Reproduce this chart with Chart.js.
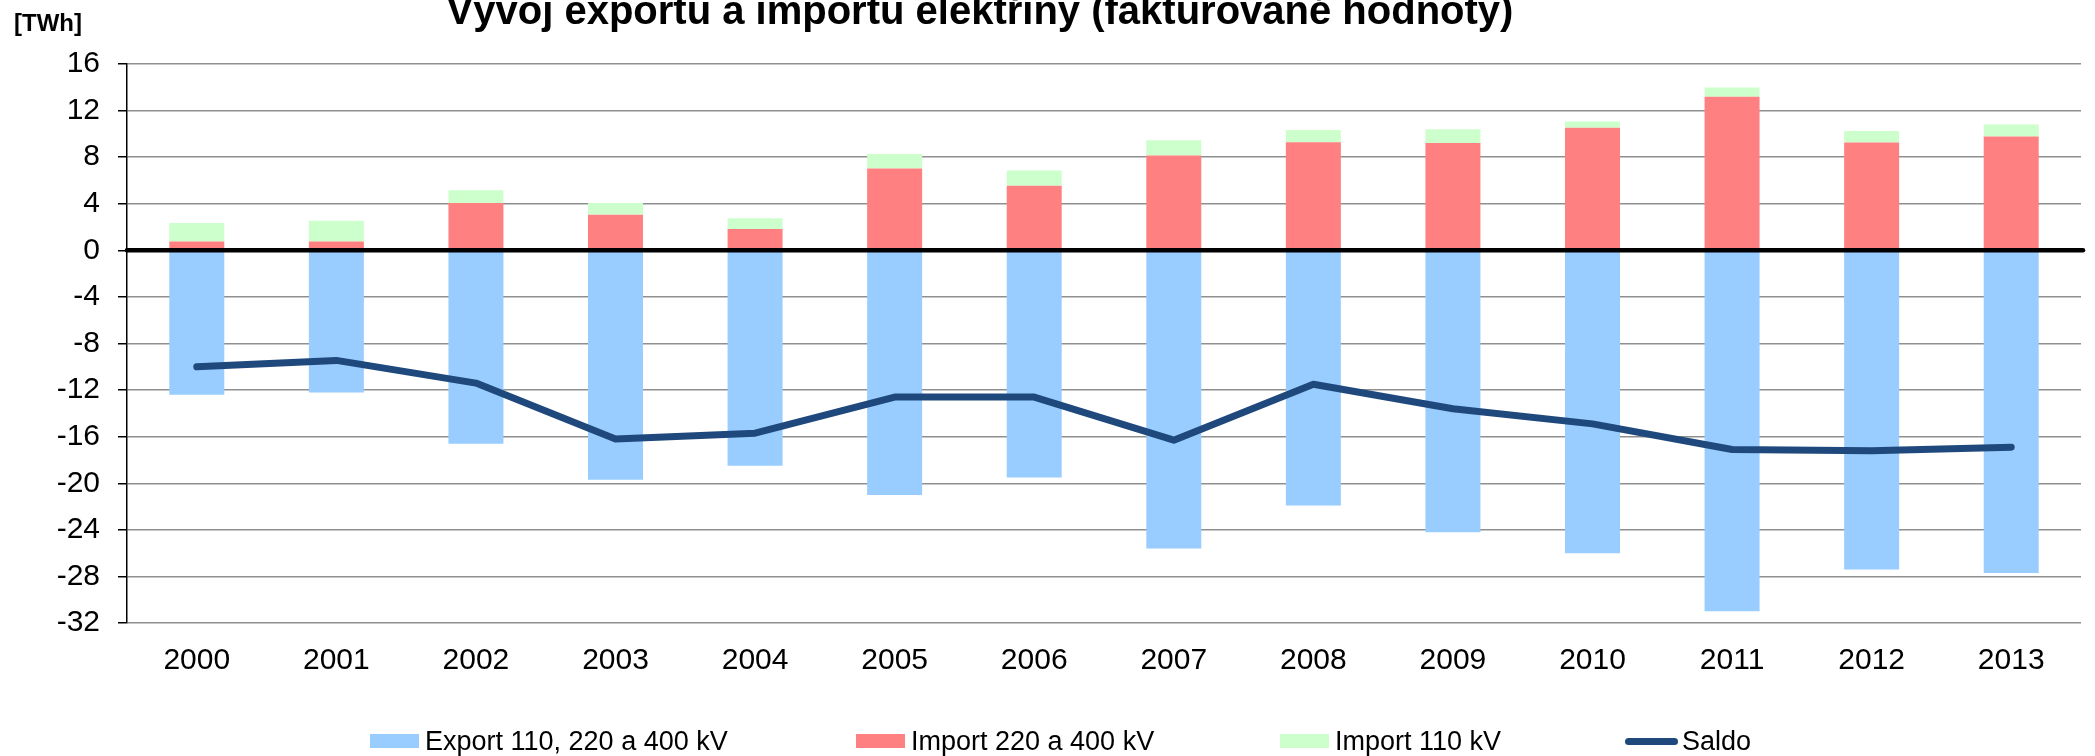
<!DOCTYPE html>
<html>
<head>
<meta charset="utf-8">
<script src="https://cdn.jsdelivr.net/npm/chart.js@4.4.0/dist/chart.umd.min.js"></script>
<style>
  body { margin: 0; background: #fff; }
  #wrap { position: relative; width: 2095px; height: 756px; }
  #legend {
    position: absolute; left: 0; top: 727px; width: 2095px; height: 28px;
    font: 27px "Liberation Sans", Arial, sans-serif; color: #000;
  }
  #legend .item { position: absolute; top: 0; height: 28px; display: flex; align-items: center; white-space: nowrap; }
  #legend .box { width: 49px; height: 14px; margin-right: 6px; }
  #legend .line { width: 53px; height: 7px; border-radius: 4px; margin-right: 4px; }
</style>
</head>
<body>
<div id="wrap">
  <canvas id="chart"></canvas>
  <div id="legend"></div>
</div>
<script>
var titleText = 'Vývoj exportu a importu elektřiny (fakturované hodnoty)';
var unitText = '[TWh]';

var years = ['2000', '2001', '2002', '2003', '2004', '2005', '2006', '2007', '2008', '2009', '2010', '2011', '2012', '2013'];
var exportAll = [-12.4, -12.2, -16.6, -19.7, -18.5, -21.0, -19.5, -25.6, -21.9, -24.2, -26.0, -31.0, -27.4, -27.7];
var import400 = [0.75, 0.75, 4.07, 3.05, 1.84, 7.02, 5.55, 8.14, 9.29, 9.22, 10.53, 13.19, 9.25, 9.78];
var import110 = [1.6, 1.8, 1.08, 1.02, 0.92, 1.25, 1.31, 1.31, 1.05, 1.18, 0.53, 0.79, 0.99, 1.02];
var saldo = [-10.0, -9.45, -11.4, -16.2, -15.7, -12.6, -12.6, -16.3, -11.5, -13.6, -14.9, -17.1, -17.2, -16.9];

var fontFamily = '"Liberation Sans", Arial, sans-serif';
Chart.defaults.font.family = fontFamily;
Chart.defaults.color = '#000';

// title + unit label, the title is cut off at the top edge like in the original
var headerPlugin = {
  id: 'header',
  afterDraw: function(chart) {
    var ctx = chart.ctx;
    ctx.save();
    ctx.fillStyle = '#000';
    ctx.textBaseline = 'alphabetic';
    ctx.font = 'bold 40px ' + fontFamily;
    ctx.textAlign = 'center';
    ctx.fillText(titleText, 980, 24);
    ctx.font = 'bold 24px ' + fontFamily;
    ctx.textAlign = 'left';
    ctx.fillText(unitText, 14, 31);
    ctx.restore();
  }
};

// black zero line sits above the bars
var zeroLinePlugin = {
  id: 'zeroLine',
  afterDatasetsDraw: function(chart) {
    var y = chart.scales.y.getPixelForValue(0);
    var area = chart.chartArea;
    var ctx = chart.ctx;
    ctx.save();
    ctx.strokeStyle = '#000';
    ctx.lineWidth = 4.5;
    ctx.lineCap = 'round';
    ctx.beginPath();
    ctx.moveTo(area.left, y);
    ctx.lineTo(area.right + 2, y);
    ctx.stroke();
    ctx.restore();
  }
};

var ctx = document.getElementById('chart').getContext('2d');
var chart = new Chart(ctx, {
  type: 'bar',
  data: {
    labels: years,
    datasets: [
      {
        type: 'line',
        label: 'Saldo',
        data: saldo,
        borderColor: '#1F497D',
        backgroundColor: '#1F497D',
        borderWidth: 7,
        borderCapStyle: 'round',
        borderJoinStyle: 'round',
        pointRadius: 0,
        tension: 0,
        stack: 'saldo',
        order: -1
      },
      {
        label: 'Export 110, 220 a 400 kV',
        data: exportAll,
        backgroundColor: '#99CCFF',
        stack: 'trade'
      },
      {
        label: 'Import 220 a 400 kV',
        data: import400,
        backgroundColor: '#FF8080',
        stack: 'trade'
      },
      {
        label: 'Import 110 kV',
        data: import110,
        backgroundColor: '#CCFFCC',
        stack: 'trade'
      }
    ]
  },
  options: {
    responsive: true,
    maintainAspectRatio: false,
    animation: false,
    layout: { padding: { top: 64, right: 14, left: 0, bottom: 0 } },
    datasets: {
      bar: { categoryPercentage: 1, barPercentage: 0.394 }
    },
    plugins: {
      legend: { display: false },
      title: { display: false },
      tooltip: { enabled: false }
    },
    scales: {
      x: {
        stacked: true,
        grid: { display: false, drawTicks: false },
        border: { display: false },
        ticks: { font: { size: 30 }, padding: 20 },
        afterFit: function(scale) { scale.height = 133; }
      },
      y: {
        stacked: true,
        min: -32,
        max: 16,
        ticks: { stepSize: 4, font: { size: 30 }, padding: 18 },
        grid: { color: '#8f8f8f', lineWidth: 1.5, tickLength: 9, tickColor: '#000' },
        border: { color: '#000', width: 1.5 },
        afterFit: function(scale) { scale.width = 127; }
      }
    }
  },
  plugins: [headerPlugin, zeroLinePlugin]
});

// html legend, same order and spacing as the original
var legendOrder = [1, 2, 3, 0];
var legendLeft = [370, 856, 1280, 1625];
var legendEl = document.getElementById('legend');
legendOrder.forEach(function(i, k) {
  var ds = chart.data.datasets[i];
  var item = document.createElement('div');
  item.className = 'item';
  item.style.left = legendLeft[k] + 'px';
  var mark = document.createElement('span');
  mark.className = ds.type === 'line' ? 'line' : 'box';
  mark.style.background = ds.type === 'line' ? ds.borderColor : ds.backgroundColor;
  var txt = document.createElement('span');
  txt.textContent = ds.label;
  item.appendChild(mark);
  item.appendChild(txt);
  legendEl.appendChild(item);
});
</script>
</body>
</html>
